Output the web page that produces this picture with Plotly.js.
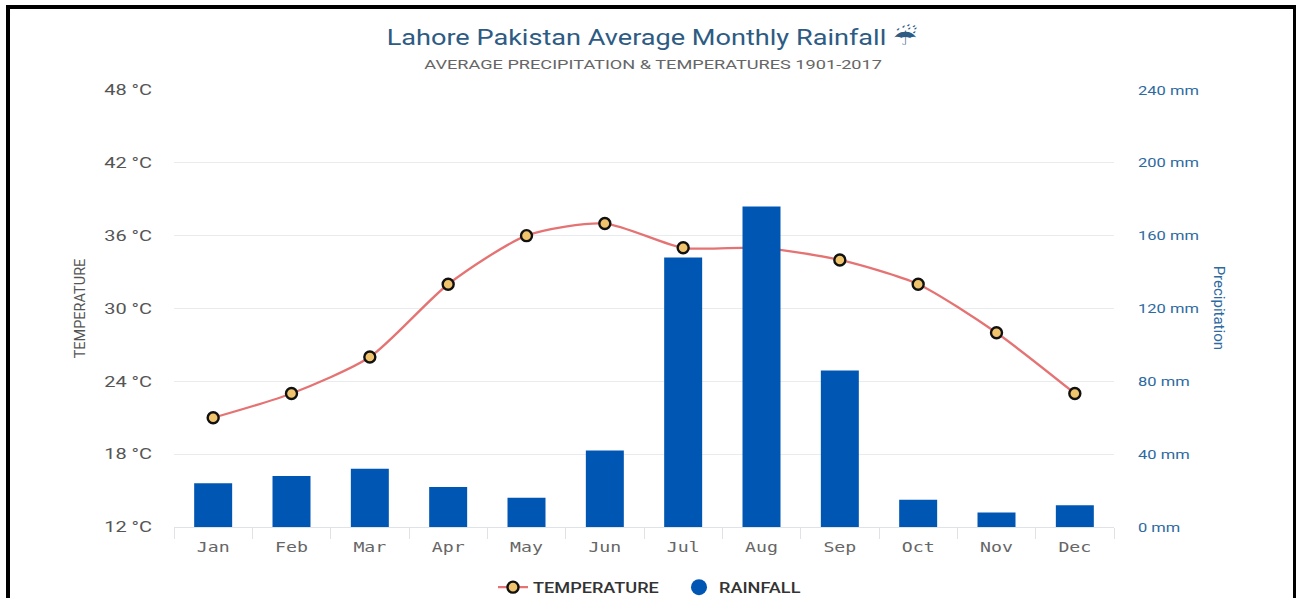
<!DOCTYPE html>
<html><head><meta charset="utf-8">
<script src="https://cdn.plot.ly/plotly-3.0.1.min.js"></script>
<style>
html,body{margin:0;padding:0;background:#fff;overflow:hidden}
#chart{width:1296px;height:598px;position:absolute;left:0;top:0}
#frame{position:absolute;left:6px;top:5px;width:1290px;height:593px;box-sizing:border-box;pointer-events:none;
border-left:4px solid #000;border-top:4px solid #000;border-right:3px solid #000;border-bottom:0}
</style></head><body>
<div id="chart"></div><div id="frame"></div>
<script>
var months=['Jan','Feb','Mar','Apr','May','Jun','Jul','Aug','Sep','Oct','Nov','Dec'];
var temperature=[21,23,26,32,36,37,35,35,34,32,28,23];
var rainfall=[24,28,32,22,16,42,148,176,86,15,8,12];
var tempTicks=[12,18,24,30,36,42,48];
var rainTicks=[0,40,80,120,160,200,240];
var titleText='Lahore Pakistan Average Monthly Rainfall ☔\uFE0E';
var subtitleText='AVERAGE PRECIPITATION &amp; TEMPERATURES 1901-2017';

var bars={type:'bar',name:'RAINFALL',x:months,y:rainfall,yaxis:'y2',width:0.485,showlegend:false,
  marker:{color:'#0056b3',line:{width:0}}};
var line={type:'scatter',mode:'lines+markers',name:'TEMPERATURE',x:months,y:temperature,
  line:{color:'#e57373',width:2.3,shape:'spline',smoothing:0.7},
  marker:{color:'#f0c36d',size:11,line:{color:'#111',width:2.4}}};
var rainKey={type:'scatter',mode:'markers',name:'RAINFALL',x:[null],y:[null],yaxis:'y2',
  marker:{color:'#0056b3',size:16,symbol:'circle'}};
var layout={
  width:1296,height:598,paper_bgcolor:'#fff',plot_bgcolor:'#fff',
  margin:{l:174,r:182,t:90,b:71},
  font:{family:'Roboto, sans-serif',color:'#555'},
  title:{text:titleText,font:{family:'Roboto, "DejaVu Sans", sans-serif',size:22.5,color:'#2d5b83'},
    x:(652-174)/940,xref:'paper',xanchor:'center',y:0.9385,yanchor:'middle'},
  annotations:[
    {text:subtitleText,xref:'paper',yref:'paper',x:(652.5-174)/940,xanchor:'center',y:1,yanchor:'bottom',yshift:16,
     showarrow:false,font:{family:'Roboto, sans-serif',size:13.5,color:'#666'}},
    {text:'Precipitation',xref:'paper',yref:'paper',x:1.1117,y:0.502,xanchor:'center',yanchor:'middle',textangle:90,
     showarrow:false,font:{family:'Roboto, sans-serif',size:15,color:'#2d6a9f'}}],
  xaxis:{type:'category',range:[-0.5,11.5],tickson:'boundaries',ticks:'outside',ticklen:11,tickcolor:'#dfe3e8',tickwidth:1,
    showgrid:false,showline:true,linecolor:'#dfe3e8',linewidth:1,zeroline:false,ticklabelstandoff:7,
    tickfont:{family:'"DejaVu Sans Mono", monospace',size:14,color:'#666'}},
  yaxis:{range:[12,48],tickmode:'array',tickvals:tempTicks,ticktext:tempTicks.map(function(v){return v+' °C'}),
    gridcolor:'#e9ecef',gridwidth:1,zeroline:false,showline:false,ticks:'',
    tickfont:{family:'Roboto, sans-serif',size:15,color:'#555'},ticklabelstandoff:21,
    title:{text:'TEMPERATURE',standoff:26,font:{family:'Roboto, sans-serif',size:14.5,color:'#555'}}},
  yaxis2:{range:[0,240],overlaying:'y',side:'right',tickmode:'array',tickvals:rainTicks,ticktext:rainTicks.map(function(v){return v+' mm'}),
    showgrid:false,zeroline:false,showline:false,ticks:'',
    tickfont:{family:'Roboto, sans-serif',size:13,color:'#2d6a9f'},ticklabelstandoff:23},
  legend:{orientation:'h',xref:'paper',x:(679-174)/940,xanchor:'center',yref:'container',y:0.018,yanchor:'middle',
    font:{family:'Roboto, sans-serif',size:14.5,color:'#333',weight:500},traceorder:'normal',
    entrywidth:141,entrywidthmode:'pixels'},
  bargap:0.5,hovermode:false,showlegend:true
};
function stretch(sel,f){
  document.querySelectorAll(sel).forEach(function(t){
    t.setAttribute('textLength',t.getComputedTextLength()*f);
    t.setAttribute('lengthAdjust','spacingAndGlyphs');
  });
}
Plotly.newPlot('chart',[bars,line,rainKey],layout,{displayModeBar:false,staticPlot:true}).then(function(){
  stretch('.gtitle',1.205);
  stretch('.annotation-text:not([data-unformatted="Precipitation"])',1.345);
  stretch('.xtick text',1.3);
  stretch('.ytick text',1.33);
  stretch('.y2tick text',1.27);
  stretch('.legendtext',1.25);
});
</script></body></html>
